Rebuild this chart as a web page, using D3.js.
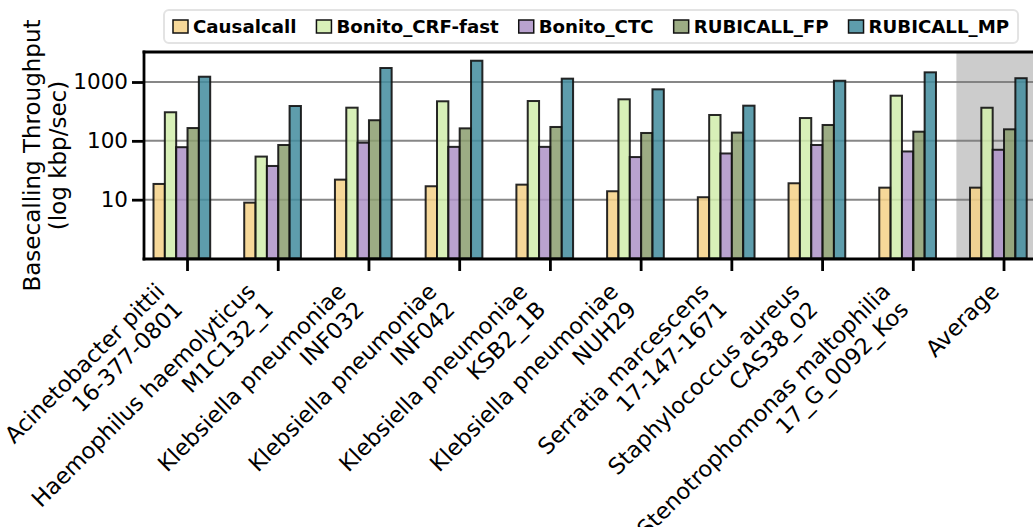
<!DOCTYPE html>
<html>
<head>
<meta charset="utf-8">
<script src="https://cdn.jsdelivr.net/npm/d3@7"></script>
<style>
  html, body { margin: 0; padding: 0; background: #fff; }
  svg { display: block; font-family: "DejaVu Sans", sans-serif; }
</style>
</head>
<body>
<svg id="chart" width="1033" height="527"></svg>
<script>
// Genomes (x categories); "\n" splits a label onto two lines
const categories = [
  "Acinetobacter pittii\n16-377-0801",
  "Haemophilus haemolyticus\nM1C132_1",
  "Klebsiella pneumoniae\nINF032",
  "Klebsiella pneumoniae\nINF042",
  "Klebsiella pneumoniae\nKSB2_1B",
  "Klebsiella pneumoniae\nNUH29",
  "Serratia marcescens\n17-147-1671",
  "Staphylococcus aureus\nCAS38_02",
  "Stenotrophomonas maltophilia\n17_G_0092_Kos",
  "Average"
];

const seriesNames = ["Causalcall", "Bonito_CRF-fast", "Bonito_CTC", "RUBICALL_FP", "RUBICALL_MP"];

// Basecalling throughput, kbp/sec
const causalcall    = [18.5, 8.9, 21.9, 16.9, 18.0, 13.9, 11.0, 19.0, 16.0, 16.0];
const bonitoCrfFast = [306, 54, 366, 470, 475, 508, 275, 244, 585, 365];
const bonitoCtc     = [78, 37.4, 93, 79, 79, 53, 61, 85, 66, 70.5];
const rubicallFp    = [165, 85, 224, 163, 172, 136, 138, 186, 143, 157];
const rubicallMp    = [1230, 391, 1730, 2300, 1140, 751, 396, 1050, 1460, 1160];

const seriesValues = [causalcall, bonitoCrfFast, bonitoCtc, rubicallFp, rubicallMp];
const seriesColors = ["#f4d187", "#d1edab", "#ad92c7", "#8b9d6e", "#428c9d"];

const yTickValues = [10, 100, 1000];
const yDomain = [1, 3300];
const highlighted = "Average";

// ---- layout ----
const plot = { left: 144, top: 52, bottom: 259, right: 1060 };
const svg = d3.select("#chart");

const x = d3.scaleBand()
  .domain(categories)
  .range([153.5, 1026.7])
  .paddingInner(0.375)
  .paddingOuter(0);

const xs = d3.scaleBand()
  .domain(seriesNames)
  .range([0, x.bandwidth()]);

const y = d3.scaleLog()
  .domain(yDomain)
  .range([plot.bottom - 0.5, plot.top - 0.5]);

// tick sits between the 3rd and 4th bar of a group
const tickX = c => x(c) + xs(seriesNames[3]);

// shaded background behind the average group
svg.append("rect")
  .attr("x", x(highlighted) - x.step() * 0.15)
  .attr("y", plot.top)
  .attr("width", plot.right - (x(highlighted) - x.step() * 0.15))
  .attr("height", plot.bottom - plot.top)
  .attr("fill", "#cccccc");

// horizontal grid
svg.append("g")
  .selectAll("line")
  .data(yTickValues)
  .join("line")
  .attr("x1", plot.left)
  .attr("x2", plot.right)
  .attr("y1", d => y(d))
  .attr("y2", d => y(d))
  .attr("stroke", "#7a7a7a")
  .attr("stroke-width", 2)
  .attr("stroke-opacity", 0.9);

// bars
const rows = categories.map((c, i) => ({
  cat: c,
  vals: seriesNames.map((s, j) => ({ s, j, v: seriesValues[j][i] }))
}));

svg.append("g")
  .selectAll("g")
  .data(rows)
  .join("g")
  .attr("transform", d => `translate(${x(d.cat)},0)`)
  .selectAll("rect")
  .data(d => d.vals)
  .join("rect")
  .attr("x", d => xs(d.s))
  .attr("width", xs.bandwidth())
  .attr("y", d => y(d.v))
  .attr("height", d => y(yDomain[0]) - y(d.v))
  .attr("fill", (d) => seriesColors[d.j])
  .attr("fill-opacity", 0.85)
  .attr("stroke", "#111")
  .attr("stroke-opacity", 0.9)
  .attr("stroke-width", 2);

// y axis
const yAxis = svg.append("g")
  .attr("transform", `translate(${plot.left},0)`)
  .call(d3.axisLeft(y).tickValues(yTickValues).tickFormat(d3.format("d")).tickSize(12).tickPadding(4));
yAxis.select(".domain").remove();
yAxis.selectAll(".tick line").attr("stroke", "#000").attr("stroke-width", 2.8);
yAxis.selectAll(".tick text")
  .attr("font-family", "DejaVu Sans")
  .attr("font-size", 21.5)
  .attr("fill", "#000");

// x axis ticks
const xAxis = svg.append("g")
  .attr("transform", `translate(${xs.bandwidth() / 2},${plot.bottom})`)
  .call(d3.axisBottom(x).tickSize(12).tickFormat(""));
xAxis.select(".domain").remove();
xAxis.selectAll(".tick line").attr("stroke", "#000").attr("stroke-width", 2.8);

// rotated x labels: right edge of the rotated block at the tick
categories.forEach(c => {
  const outer = svg.append("g");
  const inner = outer.append("g").attr("transform", "rotate(-45)");
  const t = inner.append("text")
    .attr("text-anchor", "end")
    .attr("font-size", 22.5)
    .attr("fill", "#000");
  c.split("\n").forEach((line, i) => {
    t.append("tspan").attr("x", 0).attr("dy", i ? 25.5 : 0).text(line);
  });
  const bb = outer.node().getBBox();
  outer.attr("transform", `translate(${tickX(c) - (bb.x + bb.width)},${278 - bb.y})`);
});

// spines
const spine = (x1, y1, x2, y2) => svg.append("line")
  .attr("x1", x1).attr("y1", y1).attr("x2", x2).attr("y2", y2)
  .attr("stroke", "#000").attr("stroke-width", 2.8).attr("stroke-linecap", "square");
spine(plot.left, plot.top, plot.right, plot.top);
spine(plot.left, plot.bottom, plot.right, plot.bottom);
spine(plot.left, plot.top, plot.left, plot.bottom);

// y axis title
const yTitle = svg.append("text")
  .attr("transform", `translate(0,${(plot.top + plot.bottom) / 2}) rotate(-90)`)
  .attr("text-anchor", "middle")
  .attr("font-size", 23)
  .attr("fill", "#000");
yTitle.append("tspan").attr("x", 0).attr("y", 40).text("Basecalling Throughput");
yTitle.append("tspan").attr("x", 0).attr("y", 66).text("(log kbp/sec)");

// legend
const legend = svg.append("g");
const frame = legend.append("rect")
  .attr("fill", "#fff")
  .attr("stroke", "#e3e3e3")
  .attr("stroke-width", 2)
  .attr("rx", 5);
let cx = 173;
seriesNames.forEach((s, j) => {
  legend.append("rect")
    .attr("x", cx).attr("y", 20)
    .attr("width", 15).attr("height", 13)
    .attr("fill", seriesColors[j]).attr("fill-opacity", 0.85)
    .attr("stroke", "#111").attr("stroke-width", 1.5);
  const t = legend.append("text")
    .attr("x", cx + 20).attr("y", 33)
    .attr("font-size", 18.2)
    .attr("font-weight", "bold")
    .attr("fill", "#000")
    .text(s);
  cx += 20 + t.node().getComputedTextLength() + 20;
});
frame.attr("x", 164).attr("y", 10).attr("width", cx - 20 + 9 - 164).attr("height", 33);
</script>
</body>
</html>
